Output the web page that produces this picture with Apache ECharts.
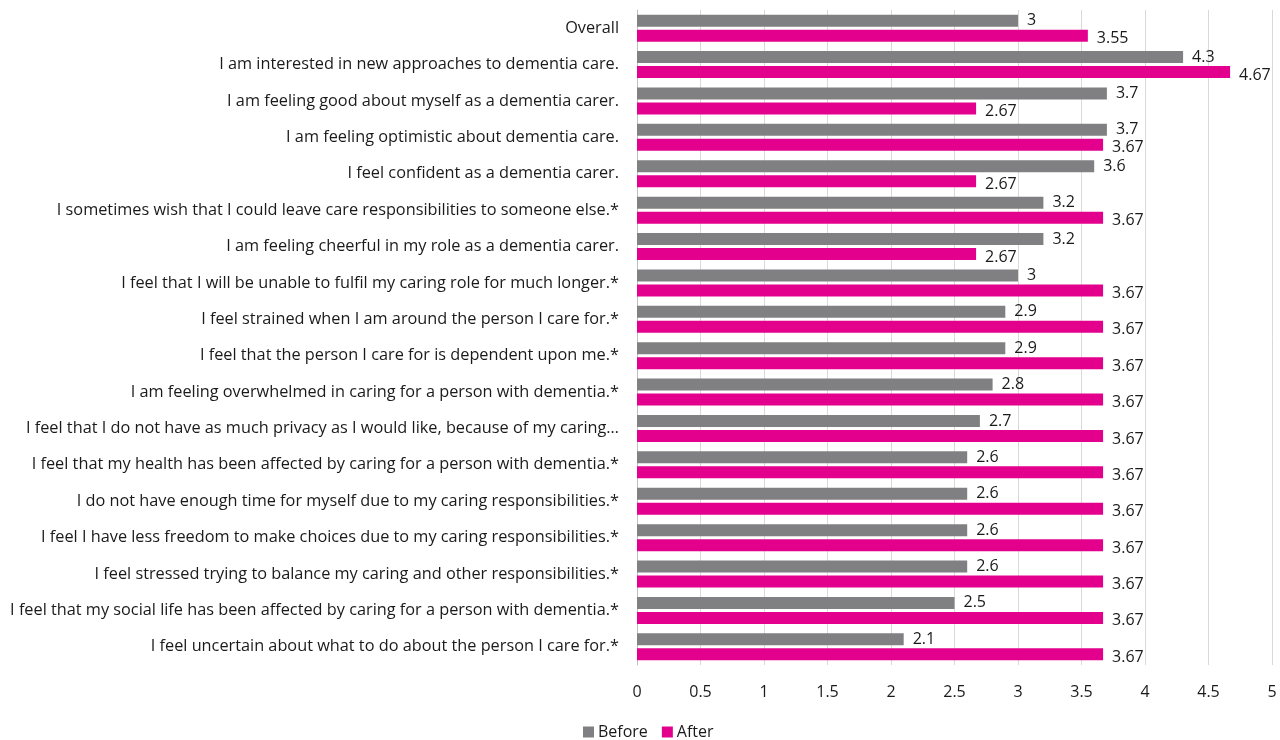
<!DOCTYPE html>
<html>
<head>
<meta charset="utf-8">
<script src="https://cdn.jsdelivr.net/npm/echarts@6/dist/echarts.min.js"></script>
<style>
  html, body { margin: 0; padding: 0; background: #fff; }
  #chart { width: 1280px; height: 740px; }
</style>
</head>
<body>
<div id="chart"></div>
<script>
// Carer survey statements, top to bottom
const categories = [
  "Overall",
  "I am interested in new approaches to dementia care.",
  "I am feeling good about myself as a dementia carer.",
  "I am feeling optimistic about dementia care.",
  "I feel confident as a dementia carer.",
  "I sometimes wish that I could leave care responsibilities to someone else.*",
  "I am feeling cheerful in my role as a dementia carer.",
  "I feel that I will be unable to fulfil my caring role for much longer.*",
  "I feel strained when I am around the person I care for.*",
  "I feel that the person I care for is dependent upon me.*",
  "I am feeling overwhelmed in caring for a person with dementia.*",
  "I feel that I do not have as much privacy as I would like, because of my caring\u2026",
  "I feel that my health has been affected by caring for a person with dementia.*",
  "I do not have enough time for myself due to my caring responsibilities.*",
  "I feel I have less freedom to make choices due to my caring responsibilities.*",
  "I feel stressed trying to balance my caring and other responsibilities.*",
  "I feel that my social life has been affected by caring for a person with dementia.*",
  "I feel uncertain about what to do about the person I care for.*"
];

const beforeValues = [3, 4.3, 3.7, 3.7, 3.6, 3.2, 3.2, 3, 2.9, 2.9, 2.8, 2.7, 2.6, 2.6, 2.6, 2.6, 2.5, 2.1];
const afterValues  = [3.55, 4.67, 2.67, 3.67, 2.67, 3.67, 2.67, 3.67, 3.67, 3.67, 3.67, 3.67, 3.67, 3.67, 3.67, 3.67, 3.67, 3.67];

const seriesNames = ["Before", "After"];

const FONT = "'Open Sans', 'Liberation Sans', Arial, sans-serif";
const TEXT = "#1a1a1a";
const GREY = "#808083";
const PINK = "#E3008C";

const chart = echarts.init(document.getElementById('chart'), null, { renderer: 'canvas' });

const valueLabel = {
  show: true,
  position: 'right',
  distance: 9,
  color: TEXT,
  fontFamily: FONT,
  fontSize: 16
};

chart.setOption({
  animation: false,
  textStyle: { fontFamily: FONT },
  grid: { left: 637, right: 8, top: 10, height: 655, containLabel: false },
  legend: {
    top: 719,
    left: 578,
    itemWidth: 11,
    itemHeight: 11,
    itemGap: 14,
    icon: 'rect',
    textStyle: { fontFamily: FONT, fontSize: 16, color: TEXT, padding: [0, 0, 0, -1] },
    data: seriesNames
  },
  xAxis: {
    type: 'value',
    min: 0,
    max: 5,
    interval: 0.5,
    axisLine: { show: false },
    axisTick: { show: false },
    axisLabel: { color: TEXT, fontSize: 16, fontFamily: FONT, margin: 19 },
    splitLine: { show: true, lineStyle: { color: '#d9d9d9', width: 1 } }
  },
  yAxis: {
    type: 'category',
    inverse: true,
    data: categories,
    axisLine: { show: true, lineStyle: { color: '#bfbfbf', width: 1 } },
    axisTick: { show: false },
    axisLabel: { color: TEXT, fontSize: 16.3, fontFamily: FONT, margin: 18 }
  },
  series: [
    {
      name: seriesNames[0],
      type: 'bar',
      data: beforeValues,
      barWidth: 12,
      barGap: '25%',
      itemStyle: { color: GREY },
      label: Object.assign({}, valueLabel, { offset: [0, 0] })
    },
    {
      name: seriesNames[1],
      type: 'bar',
      data: afterValues,
      barWidth: 12,
      barGap: '25%',
      itemStyle: { color: PINK },
      label: Object.assign({}, valueLabel, { offset: [0, 3] })
    }
  ]
});
</script>
</body>
</html>
